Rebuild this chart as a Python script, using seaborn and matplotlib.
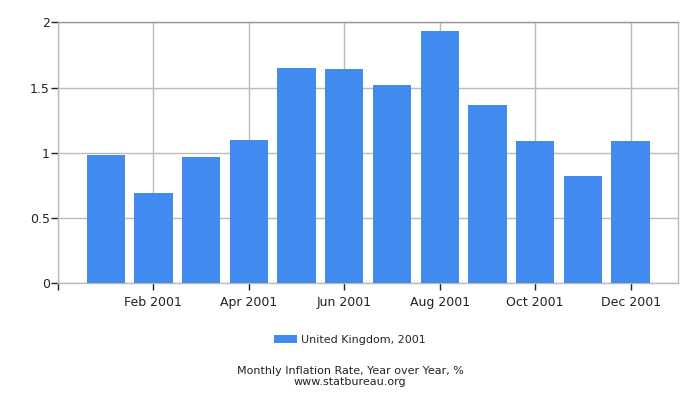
import matplotlib
matplotlib.use("Agg")
import matplotlib.pyplot as plt
import seaborn as sns
import pandas as pd

months = ["Jan 2001", "Feb 2001", "Mar 2001", "Apr 2001", "May 2001", "Jun 2001",
          "Jul 2001", "Aug 2001", "Sep 2001", "Oct 2001", "Nov 2001", "Dec 2001"]
values = [0.98, 0.69, 0.97, 1.10, 1.65, 1.64, 1.52, 1.93, 1.37, 1.09, 0.82, 1.09]
series_name = "United Kingdom, 2001"
y_ticks = [0, 0.5, 1, 1.5, 2]
y_tick_labels = ["0", "0.5", "1", "1.5", "2"]

df = pd.DataFrame({"month": months, "value": values, "series": series_name})

sns.set_style("white")
plt.rcParams['font.family'] = ['DejaVu Sans']

fig = plt.figure(figsize=(7, 4), dpi=100)
ax = fig.add_axes([58/700, 1-283.3/400, (678.3-58)/700, (283.3-22.3)/400])

sns.barplot(data=df, x="month", y="value", hue="series", palette=["#418bf0"],
            width=0.8, saturation=1, ax=ax, legend=True, zorder=3, linewidth=0,
            edgecolor="none")

ax.set_xlim(-1, 12)
ax.set_ylim(0, 2)
ax.set_xticks([-1] + list(range(1, 12, 2)))
ax.set_xticklabels([""] + [months[i] for i in range(1, 12, 2)])
ax.set_yticks(y_ticks)
ax.set_yticklabels(y_tick_labels)
ax.set_xlabel("")
ax.set_ylabel("")

ax.grid(True, color="#bbbbbb", linewidth=1, zorder=0)
ax.set_axisbelow(True)
for s in ["left", "bottom", "right"]:
    ax.spines[s].set_color("#bbbbbb")
    ax.spines[s].set_linewidth(1)
ax.spines["top"].set_color("#999999")
ax.spines["top"].set_linewidth(1)
ax.tick_params(axis="both", length=5, width=1, color="#222222", labelsize=9,
               labelcolor="#222222", direction="out", bottom=True, left=True)
ax.tick_params(axis="x", pad=4)
ax.tick_params(axis="y", pad=1)

leg = ax.legend(loc="center", bbox_to_anchor=(0.5, 1-340/400), bbox_transform=fig.transFigure,
                frameon=False, fontsize=8, handlelength=2.0, handleheight=0.8, handletextpad=0.4)

fig.text(0.5, 1-371/400, "Monthly Inflation Rate, Year over Year, %", ha="center", va="center",
         fontsize=8, color="#222222")
fig.text(0.5, 1-382/400, "www.statbureau.org", ha="center", va="center",
         fontsize=8, color="#222222")

fig.savefig("out.png", dpi=100)
